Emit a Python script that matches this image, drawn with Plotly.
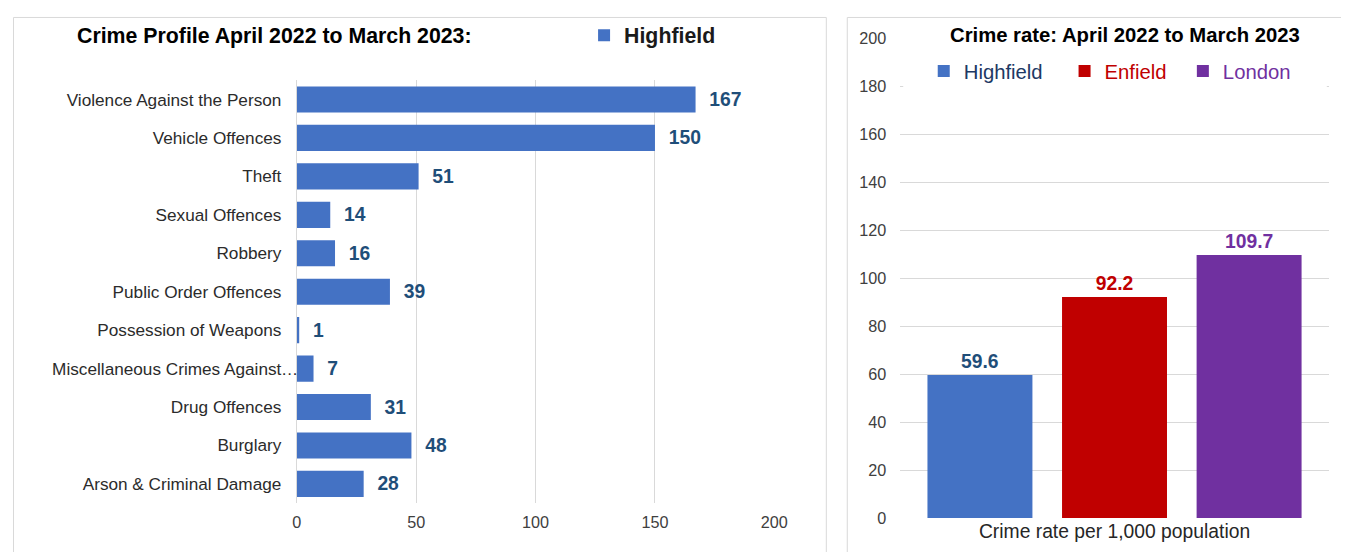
import plotly.graph_objects as go

# ---- data ----
crime_types = [
    "Violence Against the Person", "Vehicle Offences", "Theft", "Sexual Offences",
    "Robbery", "Public Order Offences", "Possession of Weapons",
    "Miscellaneous Crimes Against\u2026", "Drug Offences", "Burglary",
    "Arson & Criminal Damage",
]
crime_counts = [167, 150, 51, 14, 16, 39, 1, 7, 31, 48, 28]

rate_areas = ["Highfield", "Enfield", "London"]
rate_values = [59.6, 92.2, 109.7]
rate_category = "Crime rate per 1,000 population"

left_ticks = [0, 50, 100, 150, 200]
right_ticks = [0, 20, 40, 60, 80, 100, 120, 140, 160, 180, 200]

# ---- styles / geometry ----
# mapping from figure pixels to the photographed picture (measured):
AX, BX = 0.987, 11.9
AY, BY = 0.968, 15.7
FW, FH = 1360, 556
FONT = "Liberation Sans, Arial, sans-serif"
bar_colors = ["#4472C4", "#C00000", "#7030A0"]
label_colors = ["#1F4E79", "#C00000", "#7030A0"]
legend_text_colors = ["#203864", "#C00000", "#7030A0"]
legend_pad = ["\u00a0\u00a0\u00a0", "\u00a0\u00a0", ""]
GRID = "#D9D9D9"
ELL = "\u2026"


def fx(r):
    return (r - BX) / AX


def fy(r):
    return (r - BY) / AY


def px(r):
    return fx(r) / FW


def py(r):
    return 1 - fy(r) / FH


def fs(s):
    return round(s / AX, 1)


# truncated labels: the ellipsis overhangs the axis, as in the original
tick_text = [t[:-1] if t.endswith(ELL) else t for t in crime_types]

fig = go.Figure()

fig.add_trace(go.Bar(
    y=crime_types, x=crime_counts, orientation="h",
    name="<b>Highfield</b>",
    marker=dict(color="#4472C4", line=dict(width=0)),
    width=0.68,
    text=crime_counts, textposition="outside",
    texttemplate="  %{x}",
    textfont=dict(family=FONT, size=fs(19), color="#1F4E79", weight="bold"),
    cliponaxis=False,
    xaxis="x", yaxis="y", legend="legend",
))

for i, area in enumerate(rate_areas):
    fig.add_trace(go.Bar(
        x=[rate_category], y=[rate_values[i]],
        name=f"<span style='color:{legend_text_colors[i]}'>{area}{legend_pad[i]}</span>",
        marker=dict(color=bar_colors[i], line=dict(width=0)),
        text=[rate_values[i]], textposition="outside",
        texttemplate="%{y:.1f}",
        textfont=dict(family=FONT, size=fs(19), color=label_colors[i], weight="bold"),
        cliponaxis=False,
        xaxis="x2", yaxis="y2", legend="legend2",
    ))

fig.update_layout(
    width=FW, height=FH,
    margin=dict(l=0, r=0, t=0, b=0),
    paper_bgcolor="white", plot_bgcolor="white",
    font=dict(family=FONT, size=fs(16), color="#262626"),
    barmode="group", bargap=0.058, bargroupgap=0.22,
    xaxis=dict(
        domain=[px(296), px(774)], range=[0, 200],
        tickvals=left_ticks, showgrid=True, gridcolor=GRID, gridwidth=1,
        zeroline=False, showline=False, ticks="", ticklabelstandoff=8,
        tickfont=dict(size=fs(16), color="#404040"), anchor="y",
    ),
    yaxis=dict(
        domain=[py(502), py(79)], autorange="reversed",
        categoryorder="array", categoryarray=crime_types,
        tickmode="array", tickvals=crime_types, ticktext=tick_text,
        showgrid=False, zeroline=False, showline=True, linecolor=GRID,
        ticks="", ticklabelstandoff=11,
        tickfont=dict(size=fs(17), color="#2B2B2B"), anchor="x",
    ),
    xaxis2=dict(
        domain=[px(900), px(1329)], anchor="y2",
        showgrid=False, zeroline=False, showline=False, ticks="",
        ticklabelstandoff=0,
        tickfont=dict(size=fs(19), color="#262626"),
    ),
    yaxis2=dict(
        domain=[py(517), py(37)], range=[0, 200], anchor="x2",
        tickvals=right_ticks, showgrid=True, gridcolor=GRID, gridwidth=1,
        zeroline=False, showline=False, ticks="", ticklabelstandoff=13,
        tickfont=dict(size=fs(16), color="#404040"),
    ),
    legend=dict(
        x=(fx(624) - 41) / FW, y=py(34), xanchor="left", yanchor="middle",
        orientation="h", bgcolor="rgba(0,0,0,0)",
        font=dict(family=FONT, size=fs(21), color="#1A1A1A"),
    ),
    legend2=dict(
        x=(fx(964) - 41) / FW, y=py(70), xanchor="left", yanchor="middle",
        orientation="h", bgcolor="white",
        font=dict(family=FONT, size=fs(20)),
        traceorder="normal",
    ),
    showlegend=True,
)

# ellipsis of the truncated category label, overhanging the axis
for cat in crime_types:
    if cat.endswith(ELL):
        fig.add_annotation(text=ELL, xref="x", yref="y", x=0, y=cat,
                           xanchor="right", yanchor="middle", xshift=3,
                           showarrow=False,
                           font=dict(family=FONT, size=fs(17), color="#2B2B2B"))

# panel borders
fig.add_shape(type="rect", xref="paper", yref="paper",
              x0=0.5 / FW, x1=px(826), y0=-0.1, y1=1 - 0.5 / FH,
              line=dict(color=GRID, width=1), fillcolor="rgba(0,0,0,0)", layer="below")
fig.add_shape(type="rect", xref="paper", yref="paper",
              x0=px(847), x1=px(1345), y0=-0.1, y1=1 - 0.5 / FH,
              line=dict(color=GRID, width=1), fillcolor="rgba(0,0,0,0)", layer="below")
# white band behind the right legend (hides the gridline there)
fig.add_shape(type="rect", xref="paper", yref="paper",
              x0=px(903), x1=px(1327), y0=py(90), y1=py(52),
              line=dict(width=0), fillcolor="white", layer="above")

# titles
fig.add_annotation(text="<b>Crime Profile April 2022 to March 2023:</b>",
                   xref="paper", yref="paper", x=px(274), y=py(35),
                   xanchor="center", yanchor="middle", showarrow=False,
                   font=dict(family=FONT, size=fs(21), color="#000000"))
fig.add_annotation(text="<b>Crime rate: April 2022 to March 2023</b>",
                   xref="paper", yref="paper", x=px(1124.5), y=py(34),
                   xanchor="center", yanchor="middle", showarrow=False,
                   bgcolor="white", borderpad=5,
                   font=dict(family=FONT, size=fs(20), color="#000000"))

fig.write_html("out.html")
